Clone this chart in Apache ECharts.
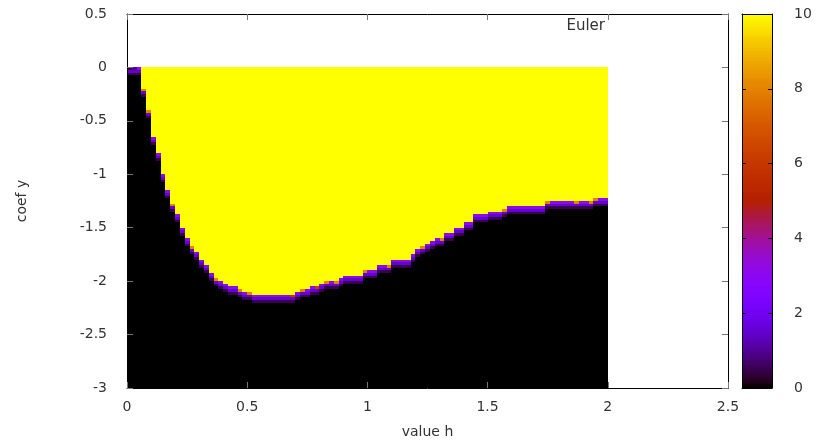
<!DOCTYPE html>
<html>
<head>
<meta charset="utf-8">
<style>
    html,body { margin: 0; padding: 0; background: #fff; }
    #main { width: 824px; height: 440px; }
</style>
<script src="https://cdn.jsdelivr.net/npm/echarts@6/dist/echarts.min.js"></script>
</head>
<body>
<div id="main"></div>
<script>
// grid of the map: strips of h (left edges), rows of y
var hStep = 0.02;
var yStep = 0.025;
var hCols = [];
for (var i = 0; i < 100; i++) hCols.push(+(i * hStep).toFixed(2));
var yRows = [];
for (var r = 0; r < 120; r++) yRows.push(+(-3 + r * yStep).toFixed(3));

// lower edge of the yellow (=10) region, per h strip
var boundary = [
    0, 0, 0, -0.20, -0.40, -0.66, -0.81, -0.99, -1.16, -1.28,
    -1.38, -1.51, -1.61, -1.67, -1.73, -1.79, -1.85, -1.92, -1.97, -1.99,
    -2.02, -2.04, -2.06, -2.08, -2.10, -2.11, -2.13, -2.13, -2.13, -2.13,
    -2.13, -2.13, -2.13, -2.13, -2.13, -2.10, -2.08, -2.07, -2.06, -2.05,
    -2.03, -2.01, -2.00, -1.99, -1.98, -1.95, -1.95, -1.95, -1.95, -1.91,
    -1.89, -1.89, -1.86, -1.84, -1.84, -1.80, -1.80, -1.80, -1.80, -1.74,
    -1.69, -1.67, -1.65, -1.63, -1.60, -1.60, -1.55, -1.54, -1.51, -1.50,
    -1.46, -1.44, -1.38, -1.38, -1.38, -1.35, -1.34, -1.34, -1.32, -1.29,
    -1.29, -1.29, -1.29, -1.29, -1.29, -1.29, -1.29, -1.25, -1.25, -1.25,
    -1.25, -1.25, -1.25, -1.25, -1.25, -1.25, -1.25, -1.23, -1.23, -1.23
];
// value of the cell right under the boundary, per h strip
var edgeValue = [
    0.5, 1, 3, 8, 8, 3, 3, 3, 3, 8,
    3, 3, 3, 8, 3, 3, 3, 3, 8, 3,
    3, 3, 3, 8, 3, 8, 3, 3, 3, 3,
    3, 3, 3, 3, 6, 3, 8, 3, 3, 6,
    3, 8, 3, 8, 3, 3, 3, 3, 3, 8,
    3, 3, 3, 3, 8, 3, 3, 3, 3, 3,
    3, 8, 3, 3, 3, 8, 3, 3, 3, 3,
    3, 3, 3, 3, 3, 3, 3, 3, 8, 3,
    3, 3, 3, 3, 3, 3, 3, 8, 3, 3,
    3, 3, 3, 8, 3, 3, 8, 8, 3, 3
];
// the darker cells further under the edge
var underEdge = [1.5, 0.5];

var cells = [];
for (var i = 0; i < hCols.length; i++) {
    var rb = Math.round((boundary[i] + 3) / yStep);
    for (var r = 0; r < yRows.length; r++) {
        var v;
        if (r >= rb) v = 10;
        else {
            var k = rb - 1 - r;
            if (k == 0) v = edgeValue[i];
            else if (k <= underEdge.length) v = underEdge[k - 1];
            else v = 0;
        }
        cells.push([hCols[i], yRows[r], v]);
    }
}

// colour bar strips
var cbStep = 0.05;
var cbData = [];
for (var c = 0; c < 200; c++) cbData.push([0, +(c * cbStep).toFixed(2), +(c * cbStep + cbStep / 2).toFixed(3)]);

// gnuplot default pm3d palette (rgbformulae 7,5,15)
function pal(x) {
    var rr = Math.sqrt(x), gg = x * x * x, bb = Math.max(0, Math.sin(2 * Math.PI * x));
    return 'rgb(' + Math.round(rr * 255) + ',' + Math.round(gg * 255) + ',' + Math.round(bb * 255) + ')';
}
var palette = [];
for (var p = 0; p <= 60; p++) palette.push(pal(p / 60));

var font = 'DejaVu Sans';
var txt = '#333';
var tickCol = '#777';
var fs = 14;

// rect snapped to whole pixels so neighbouring cells leave no seams
function cellRect(a, b, api) {
    var x0 = Math.round(a[0]), x1 = Math.round(b[0]);
    var y0 = Math.round(a[1]), y1 = Math.round(b[1]);
    return {
        type: 'rect',
        shape: { x: x0, y: y0, width: x1 - x0, height: y1 - y0 },
        style: { fill: api.visual('color'), stroke: null }
    };
}

var chart = echarts.init(document.getElementById('main'));
var option = {
    animation: false,
    textStyle: { fontFamily: font },
    grid: [
        { left: 127, top: 14, width: 601, height: 374, outerBoundsMode: 'none', containLabel: false },
        { left: 742, top: 14, width: 30, height: 374, outerBoundsMode: 'none', containLabel: false }
    ],
    visualMap: {
        show: false, type: 'continuous', min: 0, max: 10, dimension: 2,
        seriesIndex: [0, 1], inRange: { color: palette }
    },
    xAxis: [
        {
            gridIndex: 0, type: 'value', min: 0, max: 2.5, interval: 0.5, z: 10,
            name: 'value h', nameLocation: 'middle', nameGap: 37,
            nameTextStyle: { fontSize: fs, color: txt, fontFamily: font },
            axisLine: { show: true, onZero: false, lineStyle: { color: '#000', width: 1 } },
            axisTick: { show: true, inside: true, length: 6, lineStyle: { color: tickCol } },
            axisLabel: { fontSize: fs, color: txt, margin: 12, fontFamily: font,
                formatter: function (v) { return String(v); } },
            splitLine: { show: false }
        },
        {
            gridIndex: 0, type: 'value', min: 0, max: 2.5, interval: 0.5, position: 'top', z: 10,
            axisLine: { show: true, onZero: false, lineStyle: { color: '#000', width: 1 } },
            axisTick: { show: true, inside: true, length: 6, lineStyle: { color: tickCol } },
            axisLabel: { show: false }, splitLine: { show: false }
        },
        {
            gridIndex: 1, type: 'value', min: 0, max: 1, z: 10,
            axisLine: { show: true, onZero: false, lineStyle: { color: '#000', width: 1 } },
            axisTick: { show: false }, axisLabel: { show: false }, splitLine: { show: false }
        },
        {
            gridIndex: 1, type: 'value', min: 0, max: 1, position: 'top', z: 10,
            axisLine: { show: true, onZero: false, lineStyle: { color: '#000', width: 1 } },
            axisTick: { show: false }, axisLabel: { show: false }, splitLine: { show: false }
        }
    ],
    yAxis: [
        {
            gridIndex: 0, type: 'value', min: -3, max: 0.5, interval: 0.5, z: 10,
            name: 'coef y', nameLocation: 'middle', nameGap: 98,
            nameTextStyle: { fontSize: fs, color: txt, fontFamily: font },
            axisLine: { show: true, onZero: false, lineStyle: { color: '#000', width: 1 } },
            axisTick: { show: true, inside: true, length: 6, lineStyle: { color: tickCol } },
            axisLabel: { fontSize: fs, color: txt, margin: 20, fontFamily: font },
            splitLine: { show: false }
        },
        {
            gridIndex: 0, type: 'value', min: -3, max: 0.5, interval: 0.5, position: 'right', z: 10,
            axisLine: { show: true, onZero: false, lineStyle: { color: '#000', width: 1 } },
            axisTick: { show: true, inside: true, length: 6, lineStyle: { color: tickCol } },
            axisLabel: { show: false }, splitLine: { show: false }
        },
        {
            gridIndex: 1, type: 'value', min: 0, max: 10, interval: 2, position: 'right', z: 10,
            axisLine: { show: true, onZero: false, lineStyle: { color: '#000', width: 1 } },
            axisTick: { show: true, inside: true, length: 4, lineStyle: { color: '#000' } },
            axisLabel: { fontSize: fs, color: txt, margin: 22, fontFamily: font },
            splitLine: { show: false }
        },
        {
            gridIndex: 1, type: 'value', min: 0, max: 10, interval: 2, position: 'left', z: 10,
            axisLine: { show: true, onZero: false, lineStyle: { color: '#000', width: 1 } },
            axisTick: { show: true, inside: true, length: 4, lineStyle: { color: '#000' } },
            axisLabel: { show: false }, splitLine: { show: false }
        }
    ],
    graphic: [{
        type: 'text', right: 219, top: 19, z: 20,
        style: { text: 'Euler', font: '15px "DejaVu Sans"', fill: txt }
    }],
    series: [
        {
            type: 'custom', xAxisIndex: 0, yAxisIndex: 0, progressive: 0,
            encode: { x: 0, y: 1 },
            data: cells,
            renderItem: function (params, api) {
                var a = api.coord([api.value(0), api.value(1) + yStep]);
                var b = api.coord([api.value(0) + hStep, api.value(1)]);
                return cellRect(a, b, api);
            }
        },
        {
            type: 'custom', xAxisIndex: 2, yAxisIndex: 2, progressive: 0,
            encode: { x: 0, y: 1 },
            data: cbData,
            renderItem: function (params, api) {
                var a = api.coord([0, api.value(1) + cbStep]);
                var b = api.coord([1, api.value(1)]);
                return cellRect(a, b, api);
            }
        }
    ]
};
chart.setOption(option);
window.onresize = chart.resize;
</script>
</body>
</html>
